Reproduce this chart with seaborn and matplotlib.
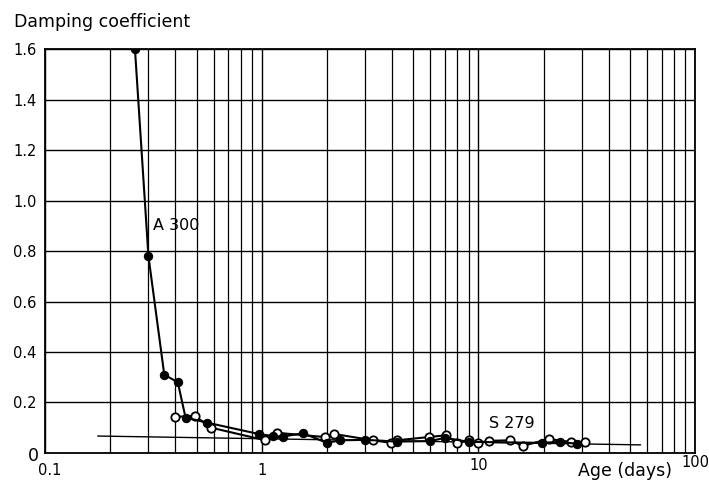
import numpy as np
import pandas as pd
import matplotlib
matplotlib.use("Agg")
import matplotlib.pyplot as plt
import seaborn as sns
from matplotlib.ticker import LogLocator, NullFormatter, FixedLocator

# Series A 300 (filled circles): age in days, damping coefficient
a300_age = [0.26, 0.30, 0.355, 0.41, 0.445, 0.56, 0.97, 1.13, 1.25, 1.55,
            2.0, 2.3, 3.0, 4.2, 6.0, 7.0, 9.0, 19.6, 23.9, 28.4]
a300_damp = [1.60, 0.78, 0.31, 0.28, 0.14, 0.12, 0.075, 0.067, 0.065, 0.078,
             0.04, 0.05, 0.052, 0.045, 0.047, 0.06, 0.044, 0.04, 0.044, 0.036]

# Series S 279 (open circles)
s279_age = [0.40, 0.49, 0.585, 1.04, 1.17, 1.95, 2.16, 3.27, 3.95, 4.2,
            5.9, 7.08, 7.95, 9.0, 9.9, 11.2, 14.0, 16.0, 21.1, 26.6, 30.9]
s279_damp = [0.143, 0.147, 0.10, 0.05, 0.08, 0.063, 0.075, 0.05, 0.04, 0.05,
             0.063, 0.07, 0.04, 0.05, 0.04, 0.048, 0.05, 0.028, 0.055, 0.044, 0.044]

# Fitted trend line
trend_age = [0.175, 56.0]
trend_damp = [0.067, 0.032]

y_ticks = [0.2, 0.4, 0.6, 0.8, 1.0, 1.2, 1.4, 1.6]
y_tick_labels = ["0.2", "0.4", "0.6", "0.8", "1.0", "1.2", "1.4", "1.6"]

sns.set_theme(style="white")
plt.rcParams["font.family"] = ["DejaVu Sans"]
plt.rcParams["text.color"] = "black"
plt.rcParams["xtick.color"] = "black"
plt.rcParams["ytick.color"] = "black"

fig = plt.figure(figsize=(7.09, 4.86), dpi=100)
ax = fig.add_axes([0.0635, 0.068, 0.917, 0.831])

df_a = pd.DataFrame({"age": a300_age, "damp": a300_damp})
df_s = pd.DataFrame({"age": s279_age, "damp": s279_damp})
df_t = pd.DataFrame({"age": trend_age, "damp": trend_damp})

sns.lineplot(data=df_t, x="age", y="damp", ax=ax, color="black", lw=1.0,
             sort=False, estimator=None)
sns.lineplot(data=df_s, x="age", y="damp", ax=ax, color="black", lw=1.5,
             sort=False, estimator=None, marker="o", markersize=6,
             markerfacecolor="white", markeredgecolor="black", markeredgewidth=1.3)
sns.lineplot(data=df_a, x="age", y="damp", ax=ax, color="black", lw=1.5,
             sort=False, estimator=None, marker="o", markersize=6,
             markerfacecolor="black", markeredgecolor="black")

ax.set_xscale("log")
ax.set_xlim(0.1, 100)
ax.set_ylim(0, 1.6)

ax.xaxis.set_major_locator(FixedLocator([0.1, 1, 10, 100]))
ax.xaxis.set_minor_locator(LogLocator(base=10, subs=np.arange(2, 10)))
ax.xaxis.set_minor_formatter(NullFormatter())
ax.set_xticklabels([])
ax.set_yticks(y_ticks)
ax.set_yticklabels(y_tick_labels, fontsize=10.5)
ax.tick_params(axis="both", which="both", length=0, pad=6)

ax.grid(True, which="major", axis="both", color="black", lw=1.0)
ax.grid(True, which="minor", axis="x", color="black", lw=0.9)
ax.set_axisbelow(True)
for side in ax.spines.values():
    side.set_color("black")
    side.set_linewidth(1.3)
ax.set_xlabel("")
ax.set_ylabel("")

# Axis origin and x tick labels, placed in pixel offsets from the axes
px = 1 / 486
tr = ax.get_xaxis_transform()
ax.text(-0.009, -3 * px / 0.831, "0", transform=ax.transAxes,
        ha="right", va="center", fontsize=12.5)
ax.text(0.1055, -10 * px / 0.831, "0.1", transform=tr, ha="center", va="top", fontsize=10.5)
ax.text(1, -10 * px / 0.831, "1", transform=tr, ha="center", va="top", fontsize=10.5)
ax.text(10, -5 * px / 0.831, "10", transform=tr, ha="center", va="top", fontsize=10.5)
ax.text(100, -2 * px / 0.831, "100", transform=tr, ha="center", va="top", fontsize=10.5)

fig.text(14 / 709, 1 - 27 / 486, "Damping coefficient", ha="left", va="baseline", fontsize=12.5)
fig.text(625 / 709, 1 - 471 / 486, "Age (days)", ha="center", va="center", fontsize=12.5)

ax.text(0.315, 0.90, "A 300", ha="left", va="center", fontsize=11.5)
ax.text(11.2, 0.118, "S 279", ha="left", va="center", fontsize=11.5)

fig.savefig("out.png", dpi=100)
